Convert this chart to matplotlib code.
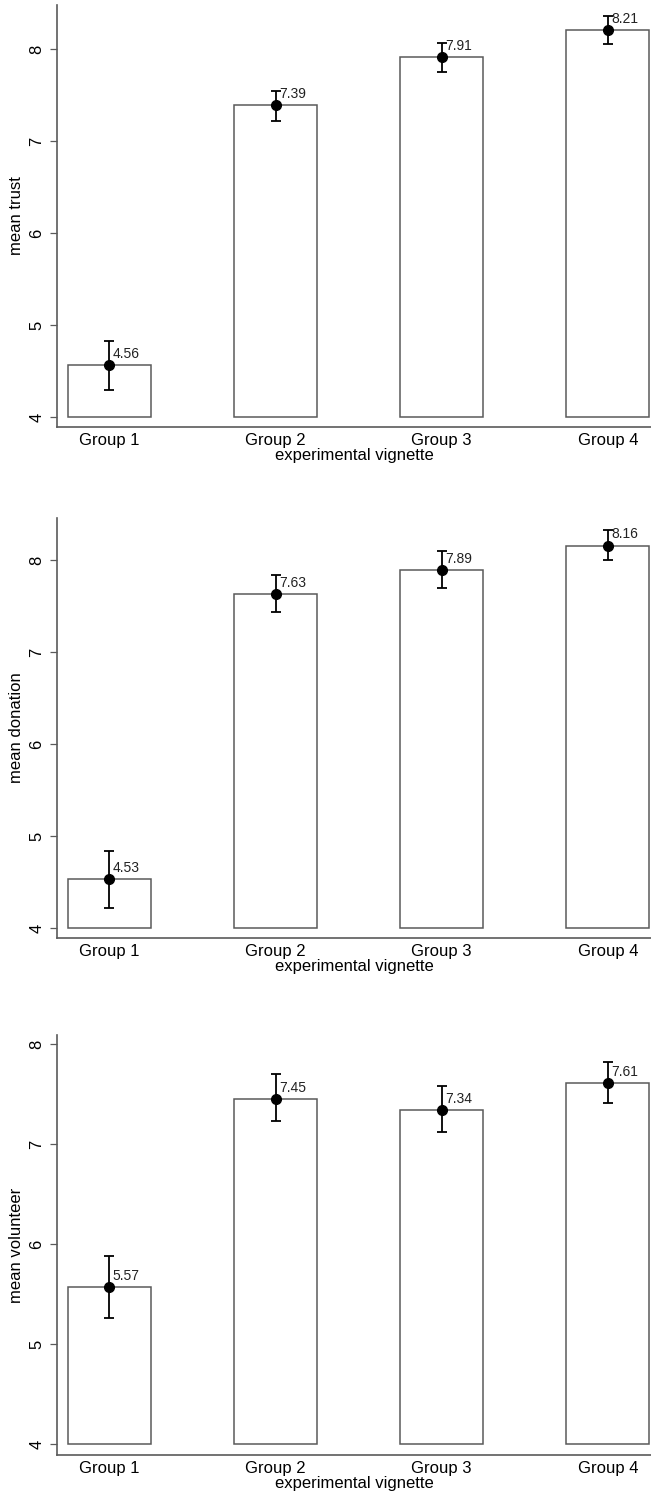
import matplotlib
matplotlib.use("Agg")
import matplotlib.pyplot as plt
import numpy as np

plt.rcParams['font.family'] = ['Liberation Sans', 'DejaVu Sans']

groups = ["Group 1", "Group 2", "Group 3", "Group 4"]
xlabel = "experimental vignette"

trust_means = [4.56, 7.39, 7.91, 8.21]
trust_lo = [4.29, 7.22, 7.75, 8.06]
trust_hi = [4.83, 7.55, 8.07, 8.36]

donation_means = [4.53, 7.63, 7.89, 8.16]
donation_lo = [4.22, 7.44, 7.70, 8.00]
donation_hi = [4.84, 7.84, 8.10, 8.33]

volunteer_means = [5.57, 7.45, 7.34, 7.61]
volunteer_lo = [5.26, 7.23, 7.12, 7.41]
volunteer_hi = [5.88, 7.70, 7.58, 7.82]

ylabels = ["mean trust", "mean donation", "mean volunteer"]
yticks_list = [[4, 5, 6, 7, 8], [4, 5, 6, 7, 8], [4, 5, 6, 7, 8]]

panels = [
    (trust_means, trust_lo, trust_hi),
    (donation_means, donation_lo, donation_hi),
    (volunteer_means, volunteer_lo, volunteer_hi),
]

W, H = 651, 1497
fig = plt.figure(figsize=(W / 100, H / 100), dpi=100)

# pixel boxes (top, bottom) for each panel
boxes = [(5, 427, 8.48), (518, 938, 8.46), (1035, 1455, 8.09)]
left_px = 57
gray = "#5a5a5a"

for i, ((m, lo, hi), (top, bot, ytop)) in enumerate(zip(panels, boxes)):
    ax = fig.add_axes([left_px / W, 1 - bot / H, 1 - left_px / W, (bot - top) / H])
    x = np.arange(1, len(groups) + 1)
    m = np.array(m); lo = np.array(lo); hi = np.array(hi)
    ax.bar(x, m - 4, bottom=4, width=0.5, facecolor="white", edgecolor=gray,
           linewidth=1.1, zorder=2)
    ax.errorbar(x, m, yerr=[m - lo, hi - m], fmt="o", color="black",
                markersize=7, capsize=3.3, elinewidth=1.3, capthick=1.3, zorder=3)
    for xi, mi in zip(x, m):
        ax.annotate(f"{mi:.2f}", (xi, mi), xytext=(2.4, 8), textcoords="offset points",
                    ha="left", va="center", fontsize=10, color="#222222", zorder=4)
    ax.set_xlim(0.684, 4.26)
    ax.set_ylim(3.89, ytop)
    ax.set_xticks(x)
    ax.set_xticklabels(groups, fontsize=12)
    ax.set_yticks(yticks_list[i])
    ax.set_yticklabels([str(t) for t in yticks_list[i]], rotation=90, va="center", fontsize=12)
    ax.tick_params(axis="x", length=0, pad=4)
    ax.tick_params(axis="y", length=5, width=0.9, color=gray, pad=4)
    for s in ["top", "right"]:
        ax.spines[s].set_visible(False)
    for s in ["left", "bottom"]:
        ax.spines[s].set_color(gray)
        ax.spines[s].set_linewidth(1.2)
    ax.set_xlabel(xlabel, fontsize=12, labelpad=0)
    ax.set_ylabel(ylabels[i], fontsize=12, labelpad=4)
    ax.patch.set_alpha(0)

fig.savefig("out.png", dpi=100, facecolor="white")
